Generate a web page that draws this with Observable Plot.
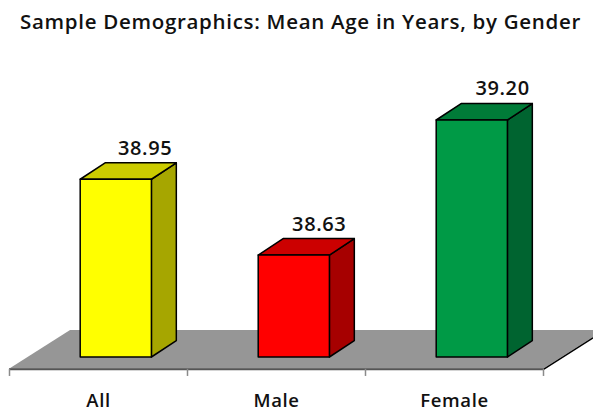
<!DOCTYPE html>
<html>
<head>
<meta charset="utf-8">
<script src="https://cdn.jsdelivr.net/npm/d3@7"></script>
<script src="https://cdn.jsdelivr.net/npm/@observablehq/plot@0.6"></script>
<style>
  html, body { margin: 0; padding: 0; background: #fff; overflow: hidden; }
  #title { height: 40px; width: 593px; text-align: center; white-space: nowrap; padding-left: 8px; box-sizing: border-box;
    font: 600 20.5px/42px "Open Sans", sans-serif; letter-spacing: 0.7px; color: #111; }
</style>
</head>
<body>
<div id="title">Sample Demographics: Mean Age in Years, by Gender</div>
<div id="chart"></div>
<script>
const categories = ["All", "Male", "Female"];
const meanAge = [38.95, 38.63, 39.20];
const frontColors = ["#ffff00", "#ff0000", "#009a46"];
const topColors = ["#cccc00", "#cc0000", "#007b38"];
const sideColors = ["#a6a600", "#a60000", "#006430"];

// Geometry of the pseudo-3D chart, in data units
const base = 38.2;
const barStart = 0.4, barEnd = 0.8;
const depthX = 0.14, depthY = 0.0696;
const floorFront = base - 0.05, floorBack = base + 0.114, floorShift = 0.343;
const tickDrop = 0.03;
const labelNudge = [0.022, 0, 0.03];

const bars = categories.map((name, i) => ({
  name, value: meanAge[i], i,
  left: i + barStart, right: i + barEnd,
  front: frontColors[i], top: topColors[i], side: sideColors[i]
}));

const sideFace = (b) => [
  {x1: b.right, y1: base, x2: b.right, y2: b.value},
  {x1: b.right + depthX, y1: base + depthY, x2: b.right + depthX, y2: b.value + depthY}
];
const topFace = (b) => [
  {x1: b.left, y1: b.value, x2: b.left + depthX, y2: b.value + depthY},
  {x1: b.right, y1: b.value, x2: b.right + depthX, y2: b.value + depthY}
];
const areaOpts = {x1: "x1", y1: "y1", x2: "x2", y2: "y2"};
const edge = {stroke: "#000", strokeWidth: 1.5, strokeLinejoin: "round"};

const floor = [
  {x1: 0, y1: floorFront, x2: floorShift, y2: floorBack},
  {x1: 3, y1: floorFront, x2: 3 + floorShift, y2: floorBack}
];

const plot = Plot.plot({
  width: 593, height: 372,
  marginTop: 0, marginRight: 0, marginBottom: 0, marginLeft: 0,
  style: {overflow: "hidden", background: "#fff", letterSpacing: "0.6px"},
  x: {type: "linear", domain: [0, 3], range: [9, 543], axis: null},
  y: {type: "linear", domain: [base, 39.2], range: [317, 80], axis: null},
  marks: [
    Plot.area(floor, {...areaOpts, fill: "#969696"}),
    Plot.line([{x: 3, y: floorFront}, {x: 3 + floorShift, y: floorBack}],
      {x: "x", y: "y", stroke: "#000", strokeWidth: 1.5}),
    Plot.ruleY([floorFront], {x1: 0, x2: 3, stroke: "#555", strokeWidth: 2}),
    Plot.ruleX([0, 1, 2, 3], {y1: floorFront, y2: floorFront - tickDrop, stroke: "#8a8a8a", strokeWidth: 1.5}),
    ...bars.flatMap((b) => [
      Plot.area(sideFace(b), {...areaOpts, fill: b.side, ...edge}),
      Plot.area(topFace(b), {...areaOpts, fill: b.top, ...edge}),
      Plot.rect([b], {x1: "left", x2: "right", y1: base, y2: "value", fill: b.front, ...edge})
    ]),
    Plot.text(bars, {
      x: (b) => (b.left + b.right) / 2 + depthX + labelNudge[b.i],
      y: (b) => b.value + depthY,
      text: (b) => b.value.toFixed(2),
      dy: -15, fontSize: 20, fontWeight: 600, fontFamily: "Open Sans, sans-serif", fill: "#111"
    }),
    Plot.text(bars, {
      x: (b) => b.i + 0.5,
      y: base,
      text: "name",
      dy: 44, fontSize: 18.5, fontWeight: 600, fontFamily: "Open Sans, sans-serif", fill: "#111"
    })
  ]
});
document.getElementById("chart").append(plot);
</script>
</body>
</html>
